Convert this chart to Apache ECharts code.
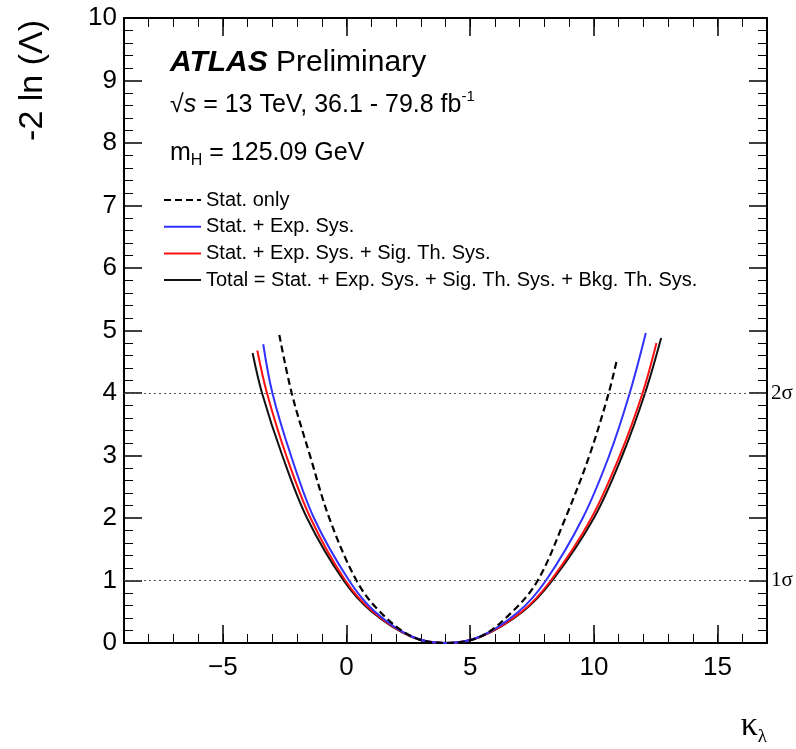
<!DOCTYPE html>
<html>
<head>
<meta charset="utf-8">
<script src="https://cdn.jsdelivr.net/npm/echarts@6/dist/echarts.min.js"></script>
<style>
  html, body { margin: 0; padding: 0; background: #fff; }
  #chart { width: 796px; height: 749px; }
</style>
</head>
<body>
<div id="chart"></div>
<script>
// -2 ln(Lambda) scans vs kappa_lambda
const kappaStat = [-2.72, -2.22, -1.48, -0.7, 0.4, 1.35, 2.66, 4.0, 5.4, 6.7, 7.73, 8.85, 9.82, 10.60, 10.94];
const nllStat   = [4.93, 4, 3, 2, 1, 0.5, 0.1, 0, 0.1, 0.5, 1, 2, 3, 4, 4.55];

const kappaExp = [-3.37, -3.0, -2.25, -1.32, 0.1, 1.15, 2.66, 4.0, 5.38, 6.95, 8.06, 9.55, 10.62, 11.45, 12.10];
const nllExp   = [4.78, 4, 3, 2, 1, 0.5, 0.1, 0, 0.1, 0.5, 1, 2, 3, 4, 4.96];

const kappaSig = [-3.61, -3.22, -2.44, -1.46, -0.05, 1.07, 2.64, 4.0, 5.41, 7.08, 8.26, 9.9, 11.05, 11.97, 12.53];
const nllSig   = [4.68, 4, 3, 2, 1, 0.5, 0.1, 0, 0.1, 0.5, 1, 2, 3, 4, 4.80];

const kappaTotal = [-3.80, -3.42, -2.60, -1.60, -0.12, 1.02, 2.62, 4.0, 5.42, 7.12, 8.32, 10.0, 11.15, 12.07, 12.72];
const nllTotal   = [4.64, 4, 3, 2, 1, 0.5, 0.1, 0, 0.1, 0.5, 1, 2, 3, 4, 4.88];

const sigmaLevels = [1, 4];
const sigmaLabels = ['1σ', '2σ'];

const legendNames = [
  'Stat. only',
  'Stat. + Exp. Sys.',
  'Stat. + Exp. Sys. + Sig. Th. Sys.',
  'Total = Stat. + Exp. Sys. + Sig. Th. Sys. + Bkg. Th. Sys.'
];

const sans = "'Liberation Sans', Arial, Helvetica, sans-serif";
const serif = "'Liberation Serif', 'Times New Roman', serif";

function pairs(xs, ys) {
  return xs.map((x, i) => [x, ys[i]]);
}

function fmtMinus(v) {
  return v < 0 ? '\u2212' + (-v) : String(v);
}

const chart = echarts.init(document.getElementById('chart'));

const frameLine = { show: true, onZero: false, lineStyle: { color: '#000', width: 2 } };
const noLine = { show: false, onZero: false };
const majorTick = { inside: true, length: 18, lineStyle: { color: '#000', width: 1.5 } };
const minorTickStyle = { inside: true, length: 9, lineStyle: { color: '#000', width: 1 } };

const xBase = {
  type: 'value',
  min: -9,
  max: 17,
  splitLine: { show: false },
};
const yBase = {
  type: 'value',
  min: 0,
  max: 10,
  interval: 1,
  splitLine: { show: false },
  axisTick: majorTick,
  minorTick: { show: true, splitNumber: 5, length: 9, lineStyle: { color: '#000', width: 1 } },
  axisLine: frameLine,
};

chart.setOption({
  animation: false,
  backgroundColor: '#fff',
  grid: { left: 124, right: 29, top: 18, bottom: 106 },
  legend: {
    data: legendNames,
    orient: 'vertical',
    left: 163,
    top: 190,
    padding: 0,
    itemWidth: 37,
    itemHeight: 14,
    itemGap: 6.7,
    itemStyle: { opacity: 0 },
    textStyle: { fontFamily: sans, fontSize: 20, color: '#000' },
    selectedMode: false,
  },
  xAxis: [
    Object.assign({}, xBase, {
      position: 'bottom',
      splitNumber: 5,
      axisLine: frameLine,
      axisTick: majorTick,
      axisLabel: {
        fontFamily: sans, fontSize: 26, color: '#000', margin: 12,
        showMinLabel: false, showMaxLabel: false, formatter: fmtMinus,
      },
    }),
    Object.assign({}, xBase, {
      position: 'bottom',
      interval: 1,
      axisLine: noLine,
      axisTick: minorTickStyle,
      axisLabel: { show: false },
    }),
    Object.assign({}, xBase, {
      position: 'top',
      splitNumber: 5,
      axisLine: frameLine,
      axisTick: majorTick,
      axisLabel: { show: false },
    }),
    Object.assign({}, xBase, {
      position: 'top',
      interval: 1,
      axisLine: noLine,
      axisTick: minorTickStyle,
      axisLabel: { show: false },
    }),
  ],
  yAxis: [
    Object.assign({}, yBase, {
      position: 'left',
      axisLabel: { fontFamily: sans, fontSize: 26, color: '#000', margin: 7 },
    }),
    Object.assign({}, yBase, {
      position: 'right',
      axisLabel: { show: false },
    }),
  ],
  series: [
    {
      name: legendNames[3],
      type: 'line',
      data: pairs(kappaTotal, nllTotal),
      smooth: 0.35,
      symbol: 'none',
      lineStyle: { color: '#111', width: 2 },
      itemStyle: { color: '#111' },
      markLine: {
        silent: true,
        symbol: ['none', 'none'],
        lineStyle: { type: [2, 3], color: '#555', width: 1 },
        label: {
          position: 'end', fontFamily: serif, fontSize: 21, color: '#000',
          distance: 4, padding: [0, 0, 9, 0],
        },
        data: sigmaLevels.map((v, i) => ({ yAxis: v, label: { formatter: sigmaLabels[i] } })),
      },
    },
    {
      name: legendNames[2],
      type: 'line',
      data: pairs(kappaSig, nllSig),
      smooth: 0.35,
      symbol: 'none',
      lineStyle: { color: '#ff1010', width: 2 },
      itemStyle: { color: '#ff1010' },
    },
    {
      name: legendNames[1],
      type: 'line',
      data: pairs(kappaExp, nllExp),
      smooth: 0.35,
      symbol: 'none',
      lineStyle: { color: '#3030ff', width: 2 },
      itemStyle: { color: '#3030ff' },
    },
    {
      name: legendNames[0],
      type: 'line',
      data: pairs(kappaStat, nllStat),
      smooth: 0.35,
      symbol: 'none',
      lineStyle: { color: '#000', width: 2.2, type: [7, 4] },
      itemStyle: { color: '#000' },
    },
  ],
  graphic: [
    {
      type: 'text', x: 33, y: 20, rotation: Math.PI / 2,
      style: {
        text: '-2 ln (Λ)', fontFamily: sans, fontSize: 34, fill: '#000',
        align: 'right', verticalAlign: 'middle',
      },
    },
    {
      type: 'text', x: 767, y: 726,
      style: {
        text: '{k|κ}{l|λ}', align: 'right', verticalAlign: 'middle',
        rich: {
          k: { fontFamily: serif, fontSize: 34, lineHeight: 42, fill: '#000' },
          l: { fontFamily: serif, fontSize: 19, lineHeight: 19, verticalAlign: 'bottom', fill: '#000' },
        },
      },
    },
    {
      type: 'text', x: 170, y: 63,
      style: {
        text: '{a|ATLAS} {b|Preliminary}', verticalAlign: 'middle',
        fontFamily: sans, fontSize: 30,
        rich: {
          a: { fontFamily: sans, fontSize: 30, fontWeight: 'bold', fontStyle: 'italic', fill: '#000' },
          b: { fontFamily: sans, fontSize: 30, fill: '#000' },
        },
      },
    },
    {
      type: 'text', x: 170, y: 105,
      style: {
        text: '{t|√}{s|s}{t| = 13 TeV, 36.1 - 79.8 fb}{u|-1}', verticalAlign: 'middle',
        rich: {
          t: { fontFamily: sans, fontSize: 25, lineHeight: 32, fill: '#000' },
          s: { fontFamily: sans, fontSize: 25, lineHeight: 32, fontStyle: 'italic', fill: '#000' },
          u: { fontFamily: sans, fontSize: 15, lineHeight: 15, verticalAlign: 'top', fill: '#000' },
        },
      },
    },
    {
      type: 'text', x: 170, y: 153,
      style: {
        text: '{t|m}{h|H}{t| = 125.09 GeV}', verticalAlign: 'middle',
        rich: {
          t: { fontFamily: sans, fontSize: 25, lineHeight: 32, fill: '#000' },
          h: { fontFamily: sans, fontSize: 16, lineHeight: 16, verticalAlign: 'bottom', fill: '#000' },
        },
      },
    },
  ],
});
</script>
</body>
</html>
